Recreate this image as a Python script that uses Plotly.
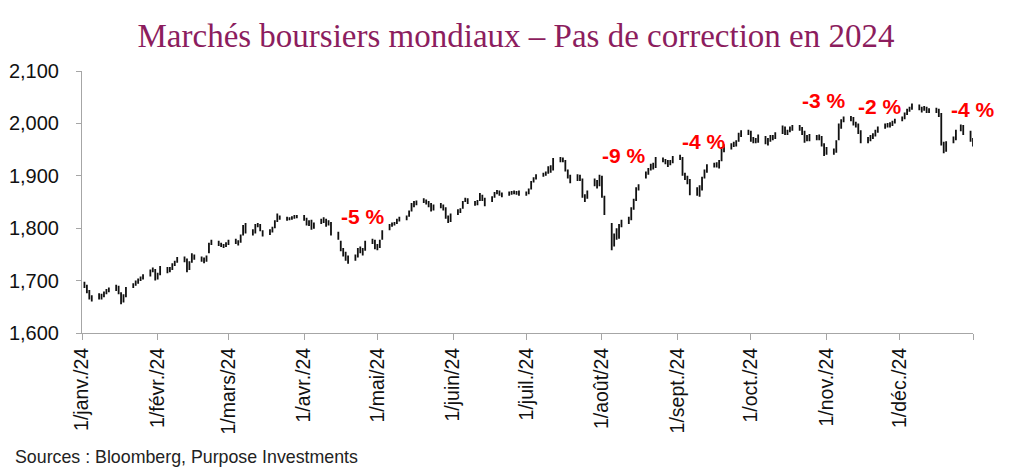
import pandas as pd
import plotly.graph_objects as go

# daily high / low / close, one row per week (Mon..Fri), trading days of 2024
close = [
    1692, 1680, 1668, 1665,
    1672, 1670, 1676, 1680, 1683,
    1690, 1678, 1660, 1670, 1685,
    1692, 1696, 1700, 1705, 1708,
    1718, 1722, 1705, 1712, 1725,
    1718, 1722, 1730, 1735, 1742,
    1740, 1720, 1735, 1748, 1745,
    1742, 1738, 1745, 1770, 1775,
    1770, 1768, 1766, 1770, 1775,
    1775, 1772, 1785, 1802, 1798,
    1792, 1805, 1808, 1798, 1788,
    1795, 1800, 1812, 1822, 1820,
    1818, 1818, 1820, 1822, 1822,
    1820, 1810, 1812, 1800, 1808,
    1815, 1818, 1808, 1812, 1790,
    1782, 1760, 1752, 1745, 1738,
    1745, 1758, 1760, 1755, 1772,
    1775, 1765, 1762, 1775, 1790,
    1805, 1808, 1810, 1815, 1818,
    1820, 1832, 1845, 1846, 1850,
    1852, 1850, 1845, 1836, 1842,
    1843, 1840, 1822, 1815, 1826,
    1832, 1835, 1850, 1855, 1850,
    1848, 1850, 1862, 1858, 1850,
    1858, 1866, 1870, 1865, 1864,
    1866, 1868, 1869, 1867, 1866,
    1866, 1874, 1888, 1894, 1900,
    1902, 1904, 1915, 1910, 1928,
    1932, 1930, 1910, 1900, 1890,
    1898, 1895, 1862, 1855, 1868,
    1890, 1882, 1898, 1862, 1830,
    1768, 1785, 1782, 1805, 1812,
    1818, 1838, 1852, 1876, 1880,
    1905, 1912, 1920, 1916, 1932,
    1930, 1928, 1922, 1926, 1935,
    1936, 1905, 1898, 1890, 1870,
    1872, 1878, 1895, 1908, 1918,
    1922, 1922, 1920, 1950, 1955,
    1958, 1962, 1962, 1978, 1982,
    1985, 1970, 1968, 1966, 1976,
    1965, 1968, 1975, 1974, 1980,
    1992, 1982, 1985, 1990, 1993,
    1992, 1985, 1970, 1975, 1972,
    1975, 1975, 1962, 1942, 1948,
    1945, 1965, 1992, 2005, 2010,
    2010, 2000, 1998, 1985, 1968,
    1970, 1975, 1978, 1985, 1990,
    1995, 1998, 1996, 2002, 2006,
    2010, 2018, 2025, 2028, 2033,
    2030, 2026, 2030, 2024, 2025,
    2026, 2018, 1962, 1950, 1960,
    1970, 1985, 1995, 1985,
    1970, 1962,
]
high = [
    1698, 1692, 1682, 1672,
    1676, 1675, 1679, 1684, 1687,
    1692, 1690, 1678, 1674, 1688,
    1695, 1700, 1704, 1708, 1712,
    1721, 1725, 1722, 1715, 1728,
    1726, 1726, 1733, 1738, 1745,
    1746, 1742, 1737, 1752, 1750,
    1746, 1744, 1748, 1772, 1778,
    1776, 1772, 1770, 1773, 1778,
    1780, 1777, 1788, 1806, 1810,
    1798, 1808, 1810, 1808, 1796,
    1798, 1803, 1815, 1828, 1824,
    1822, 1821, 1823, 1825, 1825,
    1825, 1820, 1815, 1816, 1811,
    1818, 1821, 1818, 1815, 1812,
    1793, 1776, 1762, 1755, 1748,
    1750, 1762, 1765, 1762, 1776,
    1780, 1778, 1770, 1778, 1796,
    1808, 1811, 1812, 1818, 1822,
    1824, 1834, 1848, 1852, 1853,
    1857, 1855, 1852, 1848, 1845,
    1848, 1845, 1840, 1824, 1828,
    1836, 1838, 1852, 1858, 1857,
    1852, 1854, 1867, 1864, 1858,
    1861, 1869, 1873, 1872, 1868,
    1870, 1871, 1872, 1871, 1872,
    1870, 1876, 1890, 1897, 1903,
    1906, 1908, 1918, 1920, 1934,
    1936, 1935, 1930, 1912, 1902,
    1903, 1902, 1895, 1865, 1872,
    1895, 1892, 1902, 1900, 1862,
    1810, 1790, 1800, 1808, 1816,
    1822, 1840, 1856, 1878, 1884,
    1908, 1915, 1923, 1925, 1936,
    1935, 1932, 1930, 1930, 1938,
    1940, 1936, 1906, 1900, 1894,
    1878, 1882, 1898, 1912, 1922,
    1925, 1926, 1930, 1955, 1960,
    1962, 1965, 1968, 1982, 1987,
    1988, 1986, 1974, 1972, 1979,
    1976, 1972, 1978, 1978, 1983,
    1996, 1994, 1988, 1994, 1997,
    1997, 1993, 1986, 1978, 1980,
    1978, 1979, 1976, 1962, 1955,
    1952, 1968, 2000, 2008, 2013,
    2014, 2012, 2003, 2000, 1987,
    1974, 1978, 1981, 1988, 1994,
    2000, 2001, 2002, 2005, 2009,
    2013, 2021, 2028, 2032, 2038,
    2036, 2032, 2033, 2032, 2029,
    2030, 2028, 2020, 1965, 1966,
    1975, 1988, 1998, 1997,
    1986, 1972,
]
low = [
    1686, 1676, 1664, 1660,
    1664, 1664, 1668, 1674, 1678,
    1680, 1674, 1655, 1658, 1668,
    1686, 1690, 1694, 1699, 1702,
    1708, 1716, 1700, 1702, 1710,
    1714, 1716, 1720, 1728, 1734,
    1735, 1716, 1720, 1734, 1740,
    1736, 1733, 1736, 1752, 1768,
    1766, 1764, 1762, 1764, 1768,
    1770, 1767, 1772, 1786, 1790,
    1786, 1790, 1802, 1794, 1784,
    1787, 1792, 1800, 1812, 1816,
    1814, 1815, 1816, 1818, 1819,
    1814, 1805, 1804, 1797, 1799,
    1808, 1810, 1803, 1805, 1786,
    1778, 1756, 1746, 1738, 1732,
    1738, 1744, 1752, 1748, 1757,
    1770, 1760, 1758, 1762, 1778,
    1796, 1803, 1805, 1808, 1813,
    1815, 1822, 1832, 1840, 1844,
    1848, 1845, 1840, 1832, 1834,
    1838, 1834, 1818, 1810, 1812,
    1825, 1829, 1837, 1850, 1846,
    1843, 1844, 1852, 1852, 1842,
    1850, 1858, 1865, 1862, 1859,
    1862, 1864, 1865, 1864, 1862,
    1862, 1865, 1874, 1887, 1893,
    1898, 1900, 1904, 1906, 1910,
    1926, 1926, 1908, 1895, 1886,
    1890, 1890, 1858, 1850, 1856,
    1880, 1876, 1880, 1858, 1825,
    1758, 1765, 1778, 1780, 1802,
    1808, 1815, 1835, 1852, 1872,
    1895, 1902, 1910, 1912, 1915,
    1926, 1922, 1917, 1920, 1924,
    1930, 1900, 1892, 1884, 1863,
    1862, 1860, 1872, 1895, 1906,
    1916, 1916, 1914, 1928, 1945,
    1950, 1955, 1956, 1965, 1974,
    1978, 1965, 1962, 1962, 1963,
    1960, 1958, 1965, 1968, 1970,
    1980, 1978, 1978, 1983, 1986,
    1986, 1978, 1963, 1966, 1966,
    1968, 1968, 1956, 1938, 1940,
    1940, 1944, 1968, 1990, 2002,
    2004, 1996, 1992, 1980, 1962,
    1962, 1966, 1970, 1975, 1982,
    1990, 1992, 1992, 1995, 2000,
    2004, 2008, 2016, 2022, 2026,
    2025, 2021, 2024, 2020, 2020,
    2020, 2012, 1958, 1943, 1946,
    1962, 1968, 1985, 1978,
    1965, 1956,
]

month_ticks = ["2024-01-01", "2024-02-01", "2024-03-01", "2024-04-01",
               "2024-05-01", "2024-06-01", "2024-07-01", "2024-08-01",
               "2024-09-01", "2024-10-01", "2024-11-01", "2024-12-01",
               "2024-12-31"]
month_labels = ["1/janv./24", "1/févr./24", "1/mars/24", "1/avr./24",
                "1/mai/24", "1/juin/24", "1/juil./24", "1/août/24",
                "1/sept./24", "1/oct./24", "1/nov./24", "1/déc./24", ""]

# drawdown labels: (date, level, text)
corr_dates = ["2024-04-25", "2024-08-10", "2024-09-12", "2024-10-31",
              "2024-11-23", "2024-12-31"]
corr_levels = [1823, 1938, 1966, 2043, 2033, 2026]
corr_text = ["-5 %", "-9 %", "-4 %", "-3 %", "-2 %", "-4 %"]

days = pd.bdate_range("2024-01-02", "2024-12-31")
days = days[days != pd.Timestamp("2024-12-25")]
assert len(days) == len(close) == len(high) == len(low)

fig = go.Figure(go.Ohlc(
    x=days, open=close, high=high, low=low, close=close,
    increasing_line_color="#111111", decreasing_line_color="#111111",
    line_width=1.8, tickwidth=0.15, showlegend=False,
))

for d, lv, t in zip(corr_dates, corr_levels, corr_text):
    fig.add_annotation(x=d, y=lv, text=f"<b>{t}</b>", showarrow=False,
                       font=dict(family="Arial", size=21, color="#FF0000"))

fig.add_annotation(xref="paper", yref="paper", x=0, y=0, xshift=-69, yshift=-112,
                   xanchor="left", yanchor="top", showarrow=False,
                   text="Sources : Bloomberg, Purpose Investments",
                   font=dict(family="Arial", size=17.8, color="#222222"))

axis_grey = "#A6A6A6"
fig.update_xaxes(type="date", range=["2024-01-01", "2024-12-31"],
                 rangeslider_visible=False, tickmode="array",
                 tickvals=month_ticks, ticktext=month_labels, tickangle=-90,
                 showgrid=False, zeroline=False, showline=True,
                 linecolor=axis_grey, linewidth=1, ticks="outside",
                 ticklen=6, tickcolor=axis_grey, automargin=False,
                 tickfont=dict(family="Arial", size=19.5, color="#111111"))
fig.update_yaxes(range=[1600, 2100], dtick=100, tickformat=",",
                 showgrid=False, zeroline=False, showline=True,
                 linecolor=axis_grey, linewidth=1, ticks="outside",
                 ticklen=5, tickcolor=axis_grey, ticklabelstandoff=13,
                 automargin=False,
                 tickfont=dict(family="Arial", size=20, color="#111111"))

# the page body adds an 8px offset, so the figure is drawn 8px smaller
fig.update_layout(
    width=1016, height=459,
    margin=dict(l=74, r=51, t=63, b=134),
    paper_bgcolor="white", plot_bgcolor="white",
    title=dict(text="Marchés boursiers mondiaux – Pas de correction en 2024",
               x=0.5, xanchor="center", y=0.94, yanchor="middle",
               yref="container",
               font=dict(family="Liberation Serif", size=33, color="#8C1D5E")),
)

fig.write_html("out.html")
